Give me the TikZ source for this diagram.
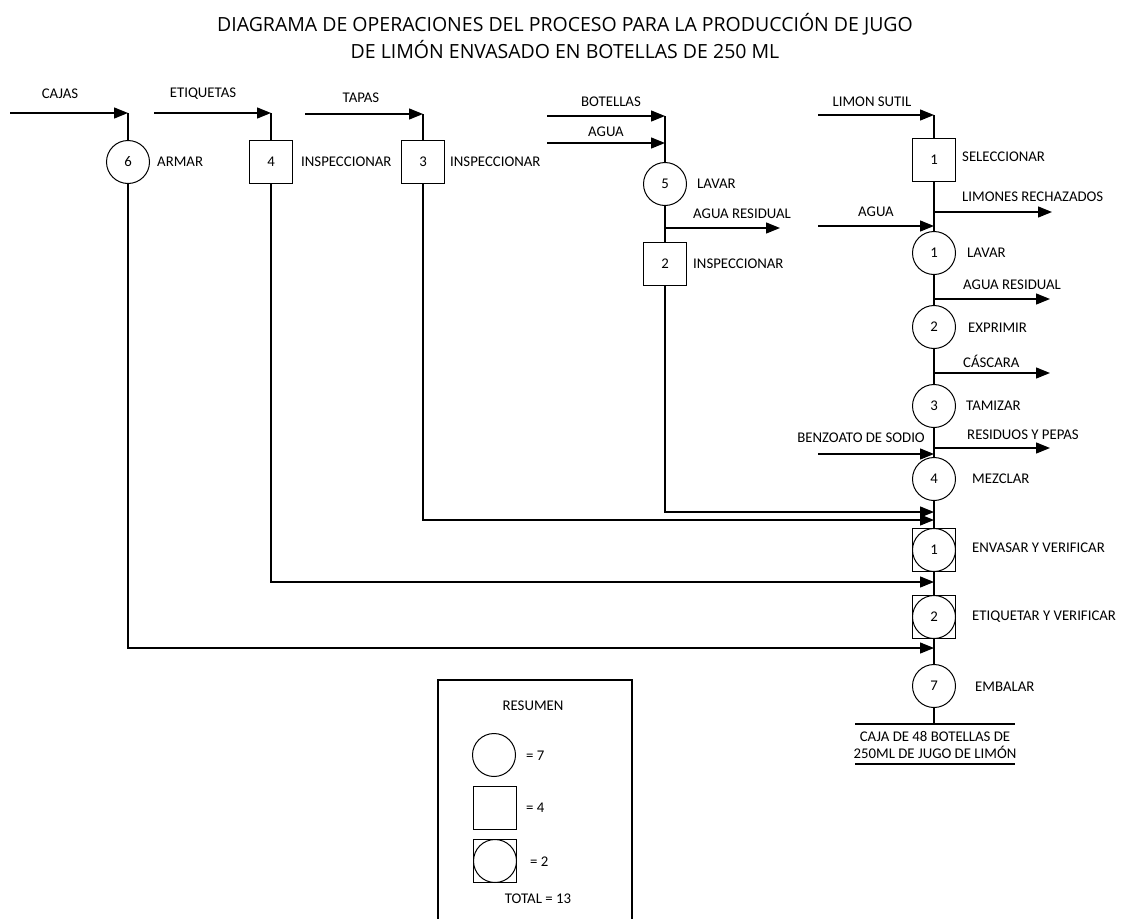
\documentclass[tikz,border=0pt]{standalone}
\usepackage{fontspec}
\setmainfont{Carlito}
\newfontfamily\titlefont{Open Sans}
\usetikzlibrary{arrows.meta}
\tikzset{
  op/.style={draw,circle,minimum size=43pt,inner sep=0pt,line width=1pt,font=\fontsize{14.8}{15}\selectfont},
  insp/.style={draw,rectangle,minimum size=43pt,inner sep=0pt,line width=1pt,font=\fontsize{14.8}{15}\selectfont},
  lbl/.style={font=\fontsize{14.8}{15}\selectfont,inner sep=0pt},
  flow/.style={-{Triangle[length=14pt,width=11pt]},line width=1.3pt},
  line/.style={line width=1.3pt}
}
\begin{document}
\begin{tikzpicture}[x=1pt,y=-1pt]
    \useasboundingbox (0,0) rectangle (1129,918);
    % title
    \node (title) at (565,36) [align=center,font=\titlefont\fontsize{19.5}{27}\selectfont] {DIAGRAMA DE OPERACIONES DEL PROCESO PARA LA PRODUCCIÓN DE JUGO\\DE LIMÓN ENVASADO EN BOTELLAS DE 250 ML};
    % cajas
    \coordinate (cajasIn) at (10,113);
    \coordinate (cajasJ) at (128,113);
    \node at (60,94) [lbl] {CAJAS};
    \node[op] (armar) at (128,162) {6};
    \node at (157,162) [lbl,anchor=west] {ARMAR};
    % etiquetas
    \coordinate (etiqIn) at (154,113);
    \coordinate (etiqJ) at (271,113);
    \node at (203,94) [lbl] {ETIQUETAS};
    \node[insp] (insp4) at (271,162) {4};
    \node at (301,162) [lbl,anchor=west] {INSPECCIONAR};
    % tapas
    \coordinate (tapasIn) at (305,114);
    \coordinate (tapasJ) at (423,114);
    \node at (361,98) [lbl] {TAPAS};
    \node[insp] (insp3) at (423,162) {3};
    \node at (450,162) [lbl,anchor=west] {INSPECCIONAR};
    % botellas
    \coordinate (botIn) at (547,116);
    \coordinate (botJ) at (665,116);
    \node at (611,102) [lbl] {BOTELLAS};
    \coordinate (aguaIn) at (547,143);
    \coordinate (aguaJ) at (665,143);
    \node at (606,132) [lbl] {AGUA};
    \node[op] (lavar5) at (665,184) {5};
    \node at (697,184) [lbl,anchor=west] {LAVAR};
    \coordinate (resJ) at (665,228);
    \coordinate (resOut) at (780,228);
    \node at (693,214) [lbl,anchor=west] {AGUA RESIDUAL};
    \node[insp] (insp2) at (665,264) {2};
    \node at (693,264) [lbl,anchor=west] {INSPECCIONAR};
    % limon
    \coordinate (limIn) at (818,115);
    \coordinate (limJ) at (934,115);
    \node at (872,102) [lbl] {LIMON SUTIL};
    \node[insp] (selec) at (934,160) {1};
    \node at (962,157) [lbl,anchor=west] {SELECCIONAR};
    \coordinate (rechJ) at (934,212);
    \coordinate (rechOut) at (1052,212);
    \node at (962,197) [lbl,anchor=west] {LIMONES RECHAZADOS};
    \coordinate (agua2In) at (818,226);
    \coordinate (agua2J) at (934,226);
    \node at (876,212) [lbl] {AGUA};
    \node[op] (lavar1) at (934,253) {1};
    \node at (967,253) [lbl,anchor=west] {LAVAR};
    \coordinate (res2J) at (934,299);
    \coordinate (res2Out) at (1050,299);
    \node at (963,285) [lbl,anchor=west] {AGUA RESIDUAL};
    \node[op] (exprimir) at (934,327) {2};
    \node at (968,328) [lbl,anchor=west] {EXPRIMIR};
    \coordinate (cascJ) at (934,373);
    \coordinate (cascOut) at (1050,373);
    \node at (963,361) [lbl,anchor=west] {CÁSCARA};
    \node[op] (tamizar) at (934,406) {3};
    \node at (966,406) [lbl,anchor=west] {TAMIZAR};
    \coordinate (pepJ) at (934,448);
    \coordinate (pepOut) at (1050,448);
    \node at (967,435) [lbl,anchor=west] {RESIDUOS Y PEPAS};
    \coordinate (benzIn) at (818,454);
    \coordinate (benzJ) at (934,454);
    \node at (925,438) [lbl,anchor=east] {BENZOATO DE SODIO};
    \node[op] (mezclar) at (934,479) {4};
    \node at (972,479) [lbl,anchor=west] {MEZCLAR};
    \coordinate (in2) at (934,512);
    \coordinate (in3) at (934,520);
    \node[insp] (envasarB) at (934,550) {};
    \node[op] (envasar) at (934,550) {1};
    \node at (972,548) [lbl,anchor=west] {ENVASAR Y VERIFICAR};
    \coordinate (in4) at (934,582);
    \node[insp] (etiquetarB) at (934,617) {};
    \node[op] (etiquetar) at (934,617) {2};
    \node at (972,617) [lbl,anchor=west] {ETIQUETAR Y VERIFICAR};
    \coordinate (in6) at (934,648);
    \node[op] (embalar) at (934,686) {7};
    \node at (975,687) [lbl,anchor=west] {EMBALAR};
    \coordinate (fin) at (934,724);
    \coordinate (finL) at (855,724);
    \coordinate (finR) at (1015,724);
    \coordinate (subL) at (855,764);
    \coordinate (subR) at (1015,764);
    \node (producto) at (935,745) [lbl,align=center,font=\fontsize{14.8}{17}\selectfont] {CAJA DE 48 BOTELLAS DE\\250ML DE JUGO DE LIMÓN};
    % input arrows
    \draw[flow] (cajasIn) -- (cajasJ);
    \draw[flow] (etiqIn) -- (etiqJ);
    \draw[flow] (tapasIn) -- (tapasJ);
    \draw[flow] (botIn) -- (botJ);
    \draw[flow] (aguaIn) -- (aguaJ);
    \draw[flow] (limIn) -- (limJ);
    \draw[flow] (agua2In) -- (agua2J);
    \draw[flow] (benzIn) -- (benzJ);
    % output arrows
    \draw[flow] (resJ) -- (resOut);
    \draw[flow] (rechJ) -- (rechOut);
    \draw[flow] (res2J) -- (res2Out);
    \draw[flow] (cascJ) -- (cascOut);
    \draw[flow] (pepJ) -- (pepOut);
    % vertical lines
    \draw[line] (cajasJ) -- (armar);
    \draw[line] (etiqJ) -- (insp4);
    \draw[line] (tapasJ) -- (insp3);
    \draw[line] (botJ) -- (lavar5);
    \draw[line] (lavar5) -- (insp2);
    \draw[line] (limJ) -- (selec);
    \draw[line] (selec) -- (lavar1);
    \draw[line] (lavar1) -- (exprimir);
    \draw[line] (exprimir) -- (tamizar);
    \draw[line] (tamizar) -- (mezclar);
    \draw[line] (mezclar) -- (envasarB);
    \draw[line] (envasarB) -- (etiquetarB);
    \draw[line] (etiquetarB) -- (embalar);
    \draw[line] (embalar) -- (fin);
    \draw[line] (finL) -- (finR);
    \draw[line] (subL) -- (subR);
    % side lines into main line
    \draw[flow] (insp2) |- (in2);
    \draw[flow] (insp3) |- (in3);
    \draw[flow] (insp4) |- (in4);
    \draw[flow] (armar) |- (in6);
    % resumen
    \draw[line width=2pt] (438,680) rectangle (632,921);
    \node at (533,706) [lbl] {RESUMEN};
    \node[op] (leyOp) at (494,755) {};
    \node at (526,756) [lbl,anchor=west] {= 7};
    \node[insp] (leyInsp) at (495,808) {};
    \node at (526,808) [lbl,anchor=west] {= 4};
    \node[insp] (leyComboB) at (495,861) {};
    \node[op] (leyCombo) at (495,861) {};
    \node at (530,862) [lbl,anchor=west] {= 2};
    \node at (538,899) [lbl] {TOTAL = 13};
\end{tikzpicture}
\end{document}
